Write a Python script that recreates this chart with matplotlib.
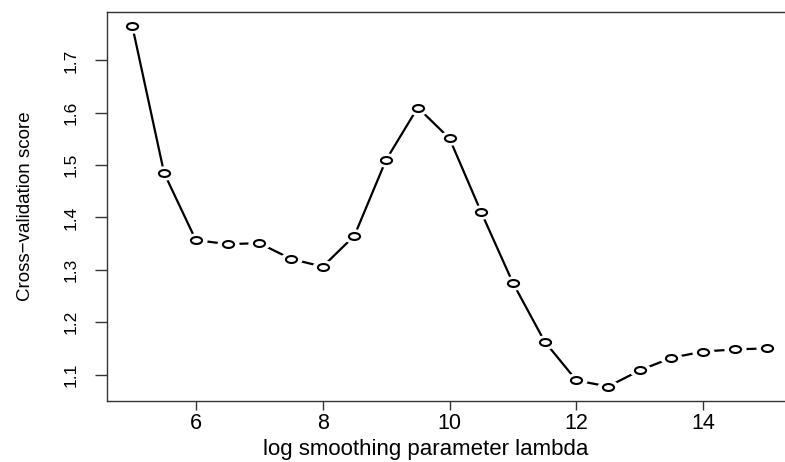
import numpy as np
import matplotlib
matplotlib.use("Agg")
import matplotlib.pyplot as plt
from matplotlib.path import Path
from matplotlib.transforms import Affine2D

plt.rcParams['font.family'] = ['Liberation Sans', 'DejaVu Sans']

# log lambda grid and cross-validation scores
log_lambda = [5.0, 5.5, 6.0, 6.5, 7.0, 7.5, 8.0, 8.5, 9.0, 9.5, 10.0,
              10.5, 11.0, 11.5, 12.0, 12.5, 13.0, 13.5, 14.0, 14.5, 15.0]
cv_score = [1.765, 1.485, 1.357, 1.349, 1.351, 1.321, 1.306, 1.365, 1.510, 1.610, 1.551,
            1.410, 1.275, 1.163, 1.089, 1.077, 1.108, 1.132, 1.144, 1.148, 1.150]
x_ticks = [6, 8, 10, 12, 14]
y_ticks = [1.1, 1.2, 1.3, 1.4, 1.5, 1.6, 1.7]

W, H = 785, 462
fig = plt.figure(figsize=(W / 100, H / 100), dpi=100)
# right edge of the box sits just past the image border, as in the reference
ax = fig.add_axes([107 / W, (H - 401) / H, (792 - 107) / W, (401 - 12) / H])

# the reference is stretched sideways, so circles are slightly wide
ell = Path(Affine2D().scale(1.6, 1.0).transform(Path.unit_circle().vertices),
           Path.unit_circle().codes)

# type="b" look: line, white halo to break it, then open circles
ax.plot(log_lambda, cv_score, color='black', linewidth=1.6, zorder=2)
ax.plot(log_lambda, cv_score, linestyle='none', marker=ell, markersize=15,
        markerfacecolor='white', markeredgecolor='white', zorder=3)
ax.plot(log_lambda, cv_score, linestyle='none', marker=ell, markersize=8,
        markerfacecolor='white', markeredgecolor='black', markeredgewidth=1.5, zorder=4)

ax.set_xlim(4.6, 15.4)
ax.set_ylim(1.0495, 1.7925)
ax.set_xticks(x_ticks)
ax.set_xticklabels([str(t) for t in x_ticks])
ax.set_yticks(y_ticks)
ax.set_yticklabels([f'{t:.1f}' for t in y_ticks], rotation=90, va='center')

for s in ax.spines.values():
    s.set_color('#333333')
    s.set_linewidth(1.0)
ax.tick_params(axis='x', length=6.5, width=1, color='#333333', labelsize=15.5, pad=2)
ax.tick_params(axis='y', length=8.6, width=1, color='#333333', labelsize=12.5, pad=12)

ax.set_xlabel('log smoothing parameter lambda', fontsize=16)
ax.set_ylabel('Cross\u2212validation score', fontsize=13.5)
ax.xaxis.set_label_coords(0.465, -0.097)
ax.yaxis.set_label_coords(-0.106, 0.5)

fig.savefig('out.png', dpi=100)
